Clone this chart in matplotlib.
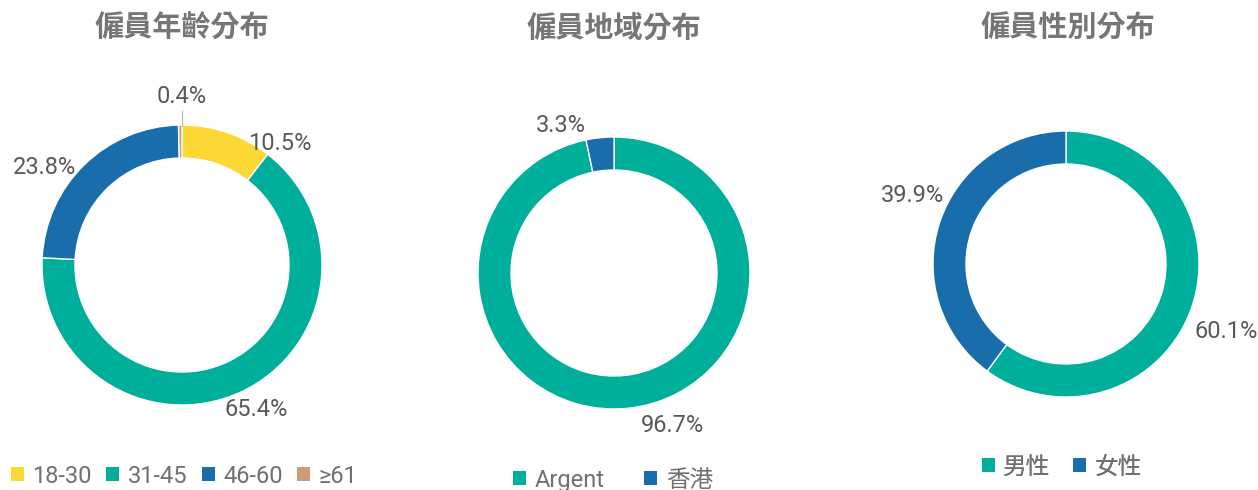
import matplotlib.pyplot as plt
from matplotlib.patches import Patch

plt.rcParams['font.family'] = ['Roboto', 'Noto Sans CJK TC', 'DejaVu Sans']

# data
age_labels = ['18-30', '31-45', '46-60', '≥61']
age_values = [10.5, 65.4, 23.8, 0.4]
region_labels = ['Argent', '香港']
region_values = [96.7, 3.3]
gender_labels = ['男性', '女性']
gender_values = [60.1, 39.9]

titles = ['僱員年齡分布', '僱員地域分布', '僱員性別分布']

yellow = '#FDD835'
teal = '#00AE9C'
blue = '#1A6DAB'
tan = '#CC9C74'
grey = '#595959'

W, H = 1258, 490
fig = plt.figure(figsize=(W / 100, H / 100), dpi=100)
ax = fig.add_axes([0, 0, 1, 1])
ax.axis('off')

charts = [
    # values, labels, colors, center(px), radius, label positions(px), title x, legend left/y, col spacing
    (age_values, age_labels, [yellow, teal, blue, tan], (182, 265), 140,
     [(280, 143), (256, 409), (44, 167), (182, 97)], 182, (11, 476), 0.62),
    (region_values, region_labels, [teal, blue], (614, 273), 136,
     [(673, 426), (561, 125)], 614, (513, 480), 1.7),
    (gender_values, gender_labels, [teal, blue], (1066, 264), 133,
     [(1226, 332), (912, 196)], 1068, (982, 467), 0.95),
]

for i, (vals, labs, cols, (cx, cy), r, lpos, tx, (lx, ly), cs) in enumerate(charts):
    ax.pie(vals, colors=cols, startangle=90, counterclock=False,
           center=(cx, H - cy), radius=r, frame=True,
           wedgeprops=dict(width=33, edgecolor='white', linewidth=1))
    for v, (px, py) in zip(vals, lpos):
        ax.text(px, H - py, f'{v:.1f}%', ha='center', va='center',
                fontsize=17, color=grey)
    ax.text(tx, H - 28, titles[i], ha='center', va='center', fontsize=21,
            fontweight='bold', color='#767676', family=['Noto Sans CJK TC'])
    handles = [Patch(facecolor=c, edgecolor='none') for c in cols]
    leg = ax.legend(handles, labs, loc='center left',
                    bbox_to_anchor=(lx / W, (H - ly) / H), bbox_transform=fig.transFigure,
                    ncol=len(labs), frameon=False, fontsize=17,
                    borderpad=0, borderaxespad=0,
                    handlelength=0.55, handleheight=0.55, handletextpad=0.35,
                    columnspacing=cs, labelcolor='#707070')
    ax.add_artist(leg)

# leader line for the 0.4% slice
ax.plot([182, 182], [H - 111, H - 126], color='#BFBFBF', linewidth=1)

ax.set_xlim(0, W)
ax.set_ylim(0, H)
ax.set_aspect('equal')
fig.savefig('out.png', dpi=100)
